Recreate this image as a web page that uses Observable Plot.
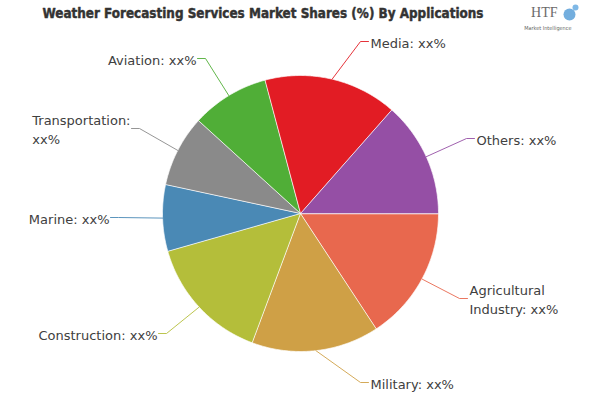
<!DOCTYPE html>
<html>
<head>
<meta charset="utf-8">
<script src="https://cdn.jsdelivr.net/npm/d3@7"></script>
<script src="https://cdn.jsdelivr.net/npm/@observablehq/plot@0.6"></script>
<style>
  html, body { margin: 0; padding: 0; background: #fff; }
  #chart { width: 600px; height: 400px; }
</style>
</head>
<body>
<div id="chart"></div>
<script>
// ---- data ----
const categories = ["Agricultural Industry", "Military", "Construction", "Marine", "Transportation", "Aviation", "Media", "Others"];
const shares = [15.75, 14.94, 14.89, 7.78, 8.39, 9.11, 15.64, 13.5];
const labelTexts = ["Agricultural\nIndustry: xx%", "Military: xx%", "Construction: xx%", "Marine: xx%", "Transportation:\nxx%", "Aviation: xx%", "Media: xx%", "Others: xx%"];
const colors = ["#E8684E", "#CFA046", "#B4BE3A", "#4A89B5", "#8A8A8A", "#50AE37", "#E21C24", "#954FA5"];
const title = "Weather Forecasting Services Market Shares (%) By Applications";

// ---- layout ----
const cx = 300, cy = 213, R = 138;
// label anchor offsets from pie centre (end of leader line), in pie units (px)
const labelAnchors = [[167, 85], [68, 169], [-142, 120], [-190, 4], [-169, -85], [-103, -155], [68, -172], [174, -75]];
const labelFont = "13px 'DejaVu Sans'";
const titleFamily = "'DejaVu Sans Condensed', 'DejaVu Sans'";

const ctx = document.createElement("canvas").getContext("2d");
const textWidth = (s) => { ctx.font = labelFont; return d3.max(s.split("\n"), (l) => ctx.measureText(l).width); };

const pie = d3.pie().sort(null).startAngle(Math.PI / 2).endAngle(Math.PI / 2 + 2 * Math.PI);
const arcs = pie(shares);

// slice polygons
const slicePts = [];
arcs.forEach((a, i) => {
  const name = categories[i];
  slicePts.push({name, x: 0, y: 0});
  const n = Math.max(2, Math.ceil((a.endAngle - a.startAngle) / (Math.PI / 360)));
  for (let k = 0; k <= n; k++) {
    const t = a.startAngle + (a.endAngle - a.startAngle) * k / n;
    slicePts.push({name, x: R * Math.sin(t), y: -R * Math.cos(t)});
  }
});

// leader lines and labels
const leaderPts = [];
const labels = [];
arcs.forEach((a, i) => {
  const name = categories[i];
  const m = (a.startAngle + a.endAngle) / 2;
  const [ax, ay] = labelAnchors[i];
  const right = ax > 0;
  leaderPts.push({name, x: R * Math.sin(m), y: -R * Math.cos(m)});
  leaderPts.push({name, x: ax + (right ? -8 : 8), y: ay});
  leaderPts.push({name, x: ax, y: ay});
  const txt = labelTexts[i];
  const multi = txt.includes("\n");
  let x, anchor;
  if (right) { x = ax + 2; anchor = "start"; }
  else if (multi) { x = ax - 1 - textWidth(txt); anchor = "start"; }
  else { x = ax - 1; anchor = "end"; }
  labels.push({name, text: txt, x, y: ay, anchor});
});

const chart = Plot.plot({
  width: 600,
  height: 400,
  margin: 0,
  style: {background: "#fff", overflow: "visible"},
  x: {domain: [-R, R], range: [cx - R, cx + R], axis: null},
  y: {domain: [-R, R], range: [cy - R, cy + R], axis: null},
  color: {domain: categories, range: colors},
  marks: [
    Plot.line(slicePts, {x: "x", y: "y", z: "name", fill: "name", stroke: "#fff", strokeWidth: 0.7, curve: "linear-closed"}),
    Plot.line(leaderPts, {x: "x", y: "y", z: "name", stroke: "name", strokeWidth: 0.9}),
    Plot.text(labels.filter(d => d.anchor === "start"), {x: "x", y: "y", text: "text", textAnchor: "start", lineAnchor: "middle", lineHeight: 1.46, fontFamily: "DejaVu Sans", fontSize: 13, fill: "#404040"}),
    Plot.text(labels.filter(d => d.anchor === "end"), {x: "x", y: "y", text: "text", textAnchor: "end", lineAnchor: "middle", lineHeight: 1.46, fontFamily: "DejaVu Sans", fontSize: 13, fill: "#404040"}),
    Plot.text([title], {text: d => d, frameAnchor: "top", dx: -37.5, dy: 13, lineAnchor: "middle", fontFamily: titleFamily, fontWeight: "bold", fontSize: 14, fill: "#333", stroke: "#333", strokeWidth: 0.45}),
    Plot.text(["HTF"], {text: d => d, frameAnchor: "top-right", dx: -43, dy: 12, lineAnchor: "middle", textAnchor: "end", fontFamily: "'Liberation Serif'", fontSize: 14, fill: "#6a6a6a"}),
    Plot.text(["Market Intelligence"], {text: d => d, frameAnchor: "top-right", dx: -29, dy: 28, lineAnchor: "middle", textAnchor: "end", fontFamily: "'DejaVu Sans Condensed', 'DejaVu Sans'", fontSize: 5.5, fill: "#666"}),
    Plot.dot([0], {frameAnchor: "top-right", dx: -31, dy: 14, r: 6, fill: "#5aa0d8", fillOpacity: 0.85}),
    Plot.dot([0], {frameAnchor: "top-right", dx: -25, dy: 7, r: 3, fill: "#7fb8e6"})
  ]
});
// compress the bold title to the condensed width seen in the reference
d3.select(chart).selectAll("text").filter(function () { return this.textContent === title; })
  .attr("textLength", 441).attr("lengthAdjust", "spacingAndGlyphs");
document.getElementById("chart").appendChild(chart);
</script>
</body>
</html>
